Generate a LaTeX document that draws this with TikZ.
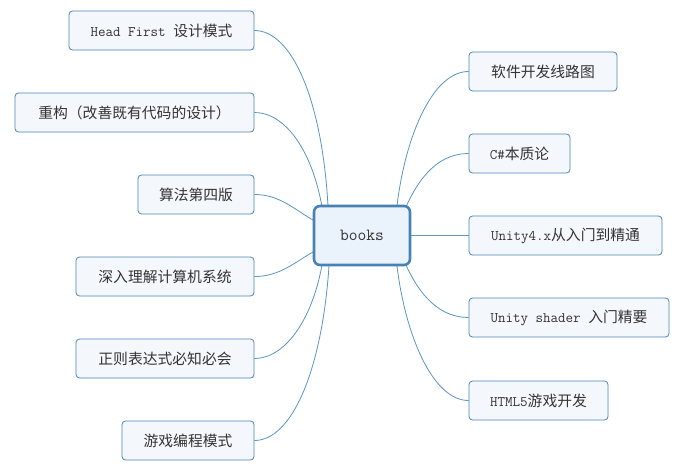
\documentclass[tikz,border=0pt]{standalone}
\usepackage{fontspec}
\newfontfamily\cjk{Noto Sans CJK SC}
\usetikzlibrary{backgrounds}
\definecolor{boxline}{HTML}{4A85B9}
\definecolor{conn}{HTML}{5A95C5}
\definecolor{boxfill}{HTML}{F4F8FC}
\definecolor{ctrfill}{HTML}{EAF2FB}
\definecolor{ctrline}{HTML}{4682B4}
\definecolor{txt}{HTML}{333333}
\tikzset{
  leaf/.style={draw=boxline, fill=boxfill, line width=0.8pt, rounded corners=3.5pt,
    minimum height=39pt, inner sep=0pt, text=txt, font=\ttfamily\fontsize{14.6}{16}\selectfont},
  root/.style={draw=ctrline, fill=ctrfill, line width=2.6pt, rounded corners=6pt,
    minimum width=96pt, minimum height=59pt, inner sep=0pt, text=txt,
    font=\ttfamily\fontsize{17}{19}\selectfont},
  conn/.style={draw=conn, line width=0.8pt}
}
\newcommand{\zh}[1]{{\cjk\fontsize{14.8}{16}\selectfont #1}}
\begin{document}
\begin{tikzpicture}[x=1pt,y=-1pt]
\useasboundingbox (0,0) rectangle (685,471);

\node[root] (C) at (362,235.5) {books};

\node[leaf, minimum width=185pt] (L1) at (161.5,30.5) {Head First \zh{设计模式}};
\node[leaf, minimum width=239pt] (L2) at (134.5,112.5) {\zh{重构（改善既有代码的设计）}};
\node[leaf, minimum width=116pt] (L3) at (196,194.5) {\zh{算法第四版}};
\node[leaf, minimum width=178pt] (L4) at (165,276.5) {\zh{深入理解计算机系统}};
\node[leaf, minimum width=178pt] (L5) at (165,358.5) {\zh{正则表达式必知必会}};
\node[leaf, minimum width=132pt] (L6) at (188,440.5) {\zh{游戏编程模式}};

\node[leaf, minimum width=148pt] (R1) at (543,71.5) {\zh{软件开发线路图}};
\node[leaf, minimum width=101pt] (R2) at (519.5,153.5) {C\#\zh{本质论}};
\node[leaf, minimum width=193pt] (R3) at (565.5,235.5) {Unity4.x\zh{从入门到精通}};
\node[leaf, minimum width=200pt] (R4) at (569,317.5) {Unity shader \zh{入门精要}};
\node[leaf, minimum width=139pt] (R5) at (538.5,400.5) {HTML5\zh{游戏开发}};

\coordinate (eL1) at (328,206);
\coordinate (eL2) at (322,207);
\coordinate (eL3) at (313,220);
\coordinate (eL4) at (313,252);
\coordinate (eL5) at (322,265);
\coordinate (eL6) at (329,266);
\coordinate (eR1) at (397,206);
\coordinate (eR2) at (406,207);
\coordinate (eR4) at (406,265);
\coordinate (eR5) at (397,266);

\begin{scope}[on background layer]
\fill[white] (0,0) rectangle (685,471);
\draw[conn] (L1.east) .. controls (292,30.5) and (322,100) .. (eL1);
\draw[conn] (L2.east) .. controls (285,112.5) and (312,150) .. (eL2);
\draw[conn] (L3.east) .. controls (280,194.5) and (295,210) .. (eL3);
\draw[conn] (L4.east) .. controls (280,276.5) and (295,262) .. (eL4);
\draw[conn] (L5.east) .. controls (285,358.5) and (312,320) .. (eL5);
\draw[conn] (L6.east) .. controls (292,440.5) and (322,370) .. (eL6);
\draw[conn] (R1.west) .. controls (432,71.5) and (405,138) .. (eR1);
\draw[conn] (R2.west) .. controls (440,153.5) and (420,175) .. (eR2);
\draw[conn] (C.east) -- (R3.west);
\draw[conn] (R4.west) .. controls (440,317.5) and (420,296) .. (eR4);
\draw[conn] (R5.west) .. controls (432,400.5) and (405,333) .. (eR5);
\end{scope}
\end{tikzpicture}
\end{document}
